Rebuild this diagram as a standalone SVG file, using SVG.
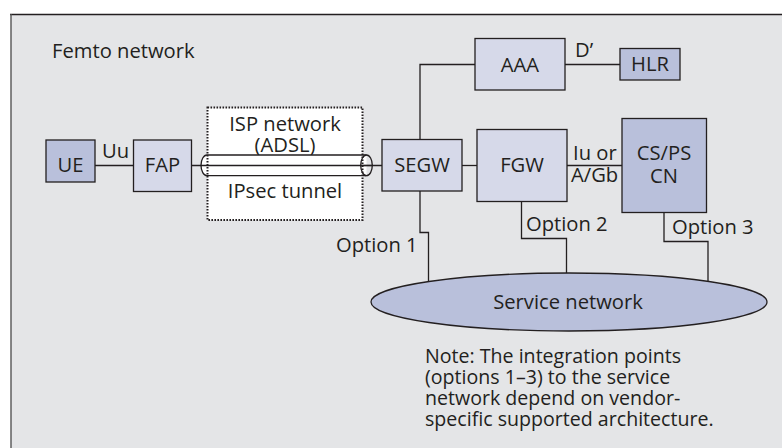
<svg xmlns="http://www.w3.org/2000/svg" width="782" height="448" viewBox="0 0 782 448">
<style>
text{font-family:"Open Sans","Noto Sans","Liberation Sans",sans-serif;font-size:20.2px;fill:#231f20}
.c{text-anchor:middle}
.n{font-size:19.6px}
.light{fill:#d6d9e9;stroke:#231f20;stroke-width:1.3}
.dark{fill:#b9c0db;stroke:#231f20;stroke-width:1.3}
.ln{fill:none;stroke:#231f20;stroke-width:1.3}
</style>
<rect x="0" y="0" width="782" height="448" fill="#ffffff"/>
<rect x="11" y="14.5" width="780" height="440" fill="#e4e5e7"/>
<line x1="10" y1="14.5" x2="782" y2="14.5" stroke="#231f20" stroke-width="1.6"/>
<line x1="11" y1="14" x2="11" y2="448" stroke="#555" stroke-width="1.4"/>
<text x="52" y="58">Femto network</text>

<g id="connectors">
<line class="ln" x1="95" y1="165.5" x2="133" y2="165.5"/>
<line class="ln" x1="192" y1="165.5" x2="382" y2="165.5"/>
<line class="ln" x1="462" y1="165.5" x2="477" y2="165.5"/>
<line class="ln" x1="567" y1="165.5" x2="622" y2="165.5"/>
<polyline class="ln" points="420,139 420,64.5 475,64.5"/>
<line class="ln" x1="565" y1="64.5" x2="620" y2="64.5"/>
<polyline class="ln" points="420,191 420,232.5 428.5,232.5 428.5,281"/>
<polyline class="ln" points="521.5,201.5 521.5,238.5 566.5,238.5 566.5,274"/>
<polyline class="ln" points="664,212 664,241.5 708,241.5 708,282"/>
<text x="102" y="158">Uu</text>
<text x="575" y="57">D’</text>
<text x="573" y="160">Iu or</text>
<text x="571" y="182">A/Gb</text>
<text x="336" y="252">Option 1</text>
<text x="526" y="231">Option 2</text>
<text x="672" y="234">Option 3</text>
</g>

<g id="isp">
<rect x="207.5" y="107.5" width="155" height="112.5" fill="#ffffff"/>
<text class="c" x="285" y="131">ISP network</text>
<text class="c" x="285" y="152">(ADSL)</text>
<text class="c" x="285" y="198">IPsec tunnel</text>
</g>

<g id="tunnel">
<path d="M207,155 L366.5,155 L366.5,175.7 L207,175.7 A6,10.35 0 0 1 207,155 Z" fill="#ffffff"/>
<path class="ln" d="M366.5,155 L207,155 A6,10.35 0 0 0 207,175.7 L366.5,175.7"/>
<line class="ln" x1="201" y1="165.5" x2="366.5" y2="165.5"/>
<ellipse class="ln" cx="366.5" cy="165.35" rx="5.8" ry="10.35" fill="#ffffff"/>
<line class="ln" x1="360.7" y1="165.5" x2="372.3" y2="165.5"/>
<rect x="207.5" y="107.5" width="155" height="112.5" fill="none" stroke="#231f20" stroke-width="2" stroke-dasharray="1.6 1.4"/>
</g>

<g id="ue"><rect class="dark" x="46" y="140" width="49" height="42"/><text class="c" x="70.5" y="172">UE</text></g>
<g id="fap"><rect class="light" x="133.5" y="140" width="58" height="51.5"/><text class="c" x="162.5" y="172">FAP</text></g>
<g id="segw"><rect class="light" x="382" y="139.5" width="80" height="51.5"/><text class="c" x="422" y="172">SEGW</text></g>
<g id="aaa"><rect class="light" x="475" y="38.5" width="90" height="51.5"/><text class="c" x="520" y="72">AAA</text></g>
<g id="hlr"><rect class="dark" x="620" y="48.5" width="60" height="31.5"/><text class="c" x="650" y="71">HLR</text></g>
<g id="fgw"><rect class="light" x="477" y="129.5" width="90" height="72"/><text class="c" x="522" y="172">FGW</text></g>
<g id="cn"><rect class="dark" x="622" y="118.5" width="84.5" height="94"/><text class="c" x="664" y="160">CS/PS</text><text class="c" x="664" y="183">CN</text></g>
<g id="service"><ellipse class="dark" cx="569" cy="302" rx="198" ry="29"/><text class="c" x="568" y="309">Service network</text></g>

<g id="note">
<text class="n" x="425" y="363">Note: The integration points</text>
<text class="n" x="425" y="384">(options 1–3) to the service</text>
<text class="n" x="425" y="405">network depend on vendor-</text>
<text class="n" x="425" y="426">specific supported architecture.</text>
</g>
</svg>
